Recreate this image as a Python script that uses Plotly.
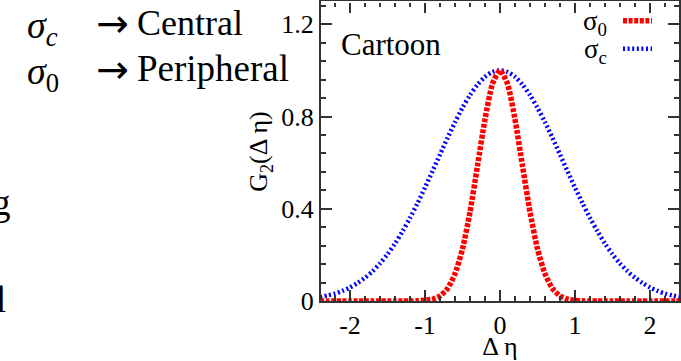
import plotly.graph_objects as go

# ---- data ----
delta_eta = [-2.4, -2.3, -2.2, -2.1, -2.0, -1.9, -1.8, -1.7, -1.6, -1.5, -1.4, -1.3, -1.2,
             -1.1, -1.0, -0.9, -0.8, -0.7, -0.6, -0.5, -0.4, -0.3, -0.2, -0.1, 0.0,
             0.1, 0.2, 0.3, 0.4, 0.5, 0.6, 0.7, 0.8, 0.9, 1.0, 1.1, 1.2,
             1.3, 1.4, 1.5, 1.6, 1.7, 1.8, 1.9, 2.0, 2.1, 2.2, 2.3, 2.4]
g2_sigma0 = [0, 0, 0, 0, 0, 0, 0, 0, 0, 0, 0, 0, 0,
             0.001, 0.003, 0.008, 0.022, 0.054, 0.118, 0.226, 0.386, 0.586, 0.788, 0.942, 1.0,
             0.942, 0.788, 0.586, 0.386, 0.226, 0.118, 0.054, 0.022, 0.008, 0.003, 0.001, 0,
             0, 0, 0, 0, 0, 0, 0, 0, 0, 0, 0, 0]
g2_sigmac = [0.017, 0.024, 0.032, 0.044, 0.059, 0.078, 0.101, 0.129, 0.163, 0.203, 0.249, 0.302, 0.360,
             0.424, 0.492, 0.563, 0.635, 0.707, 0.775, 0.838, 0.893, 0.938, 0.972, 0.993, 1.0,
             0.993, 0.972, 0.938, 0.893, 0.838, 0.775, 0.707, 0.635, 0.563, 0.492, 0.424, 0.360,
             0.302, 0.249, 0.203, 0.163, 0.129, 0.101, 0.078, 0.059, 0.044, 0.032, 0.024, 0.017]
series_names = ["σ<sub>0</sub>", "σ<sub>c</sub>"]
x_ticks = [-2, -1, 0, 1, 2]
y_ticks = [0, 0.4, 0.8, 1.2]
y_tick_text = ["0", "0.4", "0.8", "1.2"]

# ---- layout geometry ----
W, H = 681, 361
L, R, T, B = 321, 2, 0, 48
PW, PH = W - L - R, H - T - B
FONT = "Liberation Serif"
AX = "#333333"
RED_DASH, BLUE_DASH = "4px,1.6px", "2px,2.6px"


def px(xp):
    return (xp - L) / PW


def py(yp):
    return 1 - (yp - T) / PH


fig = go.Figure()
fig.add_trace(go.Scatter(x=delta_eta, y=g2_sigmac, mode="lines", name=series_names[1],
                         line=dict(color="#0000ff", width=4.5, dash=BLUE_DASH, shape="spline", smoothing=0.8),
                         showlegend=False, cliponaxis=True))
fig.add_trace(go.Scatter(x=delta_eta, y=g2_sigma0, mode="lines", name=series_names[0],
                         line=dict(color="#ff0000", width=5.5, dash=RED_DASH, shape="spline", smoothing=0.6),
                         showlegend=False, cliponaxis=True))

axis_common = dict(showline=True, linecolor=AX, linewidth=2, mirror="allticks",
                   ticks="inside", ticklen=11, tickwidth=1.5, tickcolor=AX,
                   showgrid=False, zeroline=False,
                   tickfont=dict(family=FONT, size=26, color="black"))

fig.update_xaxes(range=[-2.387, 2.387], tickmode="array", tickvals=x_ticks,
                 ticktext=[("-" + str(abs(v))) if v < 0 else str(v) for v in x_ticks],
                 minor=dict(ticks="inside", ticklen=5, dtick=0.2, tick0=0, tickcolor=AX, tickwidth=1.5),
                 title=dict(text="Δ η", font=dict(family=FONT, size=26, color="black"), standoff=3),
                 **axis_common)
fig.update_yaxes(range=[0, 1.2966], tickmode="array", tickvals=y_ticks, ticktext=y_tick_text,
                 minor=dict(ticks="inside", ticklen=5, dtick=0.08, tick0=0, tickcolor=AX, tickwidth=1.5),
                 title=dict(text="G<sub>2</sub>(Δ η)", font=dict(family=FONT, size=26, color="black"), standoff=6),
                 ticklabelstandoff=0,
                 **axis_common)

ann = []
# "Cartoon" label inside plot
ann.append(dict(text="Cartoon", x=px(339), y=py(44), xanchor="left", yanchor="middle",
                font=dict(family=FONT, size=31, color="black")))
# custom legend: text then sample line
ann.append(dict(text=series_names[0], x=px(609), y=py(22), xanchor="right", yanchor="middle",
                font=dict(family=FONT, size=27, color="black")))
ann.append(dict(text=series_names[1], x=px(609), y=py(51), xanchor="right", yanchor="middle",
                font=dict(family=FONT, size=27, color="black")))
# slide text at left
ann.append(dict(text="<i>σ</i><sub><i>c</i></sub>", x=px(25), y=py(27), xanchor="left", yanchor="middle",
                font=dict(family=FONT, size=38, color="black")))
ann.append(dict(text="→", x=px(94), y=py(23), xanchor="left", yanchor="middle",
                font=dict(family="DejaVu Sans", size=39, color="black")))
ann.append(dict(text="Central", x=px(135), y=py(22), xanchor="left", yanchor="middle",
                font=dict(family=FONT, size=36, color="black")))
ann.append(dict(text="<i>σ</i><sub>0</sub>", x=px(25), y=py(75), xanchor="left", yanchor="middle",
                font=dict(family=FONT, size=38, color="black")))
ann.append(dict(text="→", x=px(94), y=py(71), xanchor="left", yanchor="middle",
                font=dict(family="DejaVu Sans", size=39, color="black")))
ann.append(dict(text="Peripheral", x=px(135), y=py(70), xanchor="left", yanchor="middle",
                font=dict(family=FONT, size=37, color="black")))
ann.append(dict(text="g", x=px(13), y=py(210), xanchor="right", yanchor="middle",
                font=dict(family=FONT, size=37, color="black")))
ann.append(dict(text="l", x=px(8), y=py(311), xanchor="right", yanchor="middle",
                font=dict(family=FONT, size=37, color="black")))
for a in ann:
    a.update(xref="paper", yref="paper", showarrow=False)

shapes = [
    dict(type="line", xref="paper", yref="paper", x0=px(623), x1=px(652), y0=py(19.5), y1=py(19.5),
         line=dict(color="#ff0000", width=5.5, dash=RED_DASH)),
    dict(type="line", xref="paper", yref="paper", x0=px(623), x1=px(652), y0=py(49), y1=py(49),
         line=dict(color="#0000ff", width=4.5, dash=BLUE_DASH)),
    # the frame's top edge lies just above the visible area in the reference
    dict(type="line", xref="paper", yref="paper", x0=0, x1=1, y0=1, y1=1, layer="above",
         line=dict(color="white", width=2)),
]

fig.update_layout(width=W, height=H, margin=dict(l=L, r=R, t=T, b=B, pad=0),
                  paper_bgcolor="white", plot_bgcolor="white",
                  annotations=ann, shapes=shapes, showlegend=False,
                  font=dict(family=FONT, color="black"))

fig.write_html("out.html")
